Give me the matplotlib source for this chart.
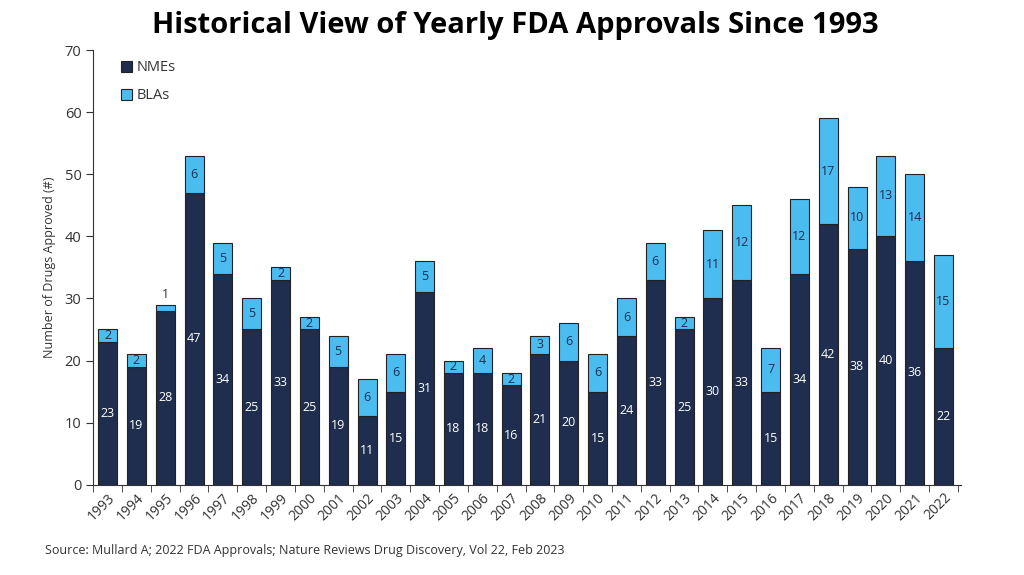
import matplotlib.pyplot as plt
import numpy as np

years = list(range(1993, 2023))
nmes = [23, 19, 28, 47, 34, 25, 33, 25, 19, 11, 15, 31, 18, 18, 16,
        21, 20, 15, 24, 33, 25, 30, 33, 15, 34, 42, 38, 40, 36, 22]
blas = [2, 2, 1, 6, 5, 5, 2, 2, 5, 6, 6, 5, 2, 4, 2,
        3, 6, 6, 6, 6, 2, 11, 12, 7, 12, 17, 10, 13, 14, 15]

NAVY = '#1f2d4f'
LIGHT = '#4bbcf0'
TEXT = '#333333'

plt.rcParams['font.family'] = ['Open Sans', 'DejaVu Sans']

fig = plt.figure(figsize=(10.24, 5.75), dpi=100)
ax = fig.add_axes([0.091, 0.157, 0.847, 0.756])

x = np.arange(len(years))
width = 0.66
ax.bar(x, nmes, width, color=NAVY, edgecolor='#222222', linewidth=0.8, label='NMEs')
ax.bar(x, blas, width, bottom=nmes, color=LIGHT, edgecolor='#222222', linewidth=0.8, label='BLAs')

for xi, n, b in zip(x, nmes, blas):
    ax.text(xi, n / 2, str(n), ha='center', va='center', color='white', fontsize=9)
    if b >= 2:
        ax.text(xi, n + b / 2, str(b), ha='center', va='center', color=NAVY, fontsize=9)
    else:
        ax.text(xi, n + b + 0.6, str(b), ha='center', va='bottom', color=TEXT, fontsize=9)

ax.set_xlim(-0.49, len(years) - 0.41)
ax.set_ylim(0, 70)
ax.set_yticks(range(0, 71, 10))
ax.set_xticks(x)
ax.set_xticklabels([str(y) for y in years], rotation=45, ha='right', rotation_mode='anchor',
                   fontsize=10, color=TEXT)
ax.set_xticks(np.arange(-0.5, len(years), 1.0), minor=True)
ax.tick_params(axis='x', which='major', length=0, pad=4)
ax.tick_params(axis='x', which='minor', length=5, color='#333333')
ax.tick_params(axis='y', labelsize=10.5, colors=TEXT, length=5)
for s in ['top', 'right']:
    ax.spines[s].set_visible(False)
for s in ['left', 'bottom']:
    ax.spines[s].set_color('#333333')

ax.set_ylabel('Number of Drugs Approved (#)', fontsize=9, color=TEXT, labelpad=6)

ax.legend(loc='upper left', bbox_to_anchor=(0.02, 1.0), frameon=False, fontsize=10.5,
          handlelength=0.8, handleheight=0.8, handletextpad=0.3, labelspacing=0.9,
          borderaxespad=0.3, labelcolor=TEXT)

fig.text(0.503, 0.955, 'Historical View of Yearly FDA Approvals Since 1993', ha='center', va='center',
         fontsize=21, fontweight='bold', color='black')
fig.text(0.044, 0.042, 'Source: Mullard A; 2022 FDA Approvals; Nature Reviews Drug Discovery, Vol 22, Feb 2023',
         ha='left', va='center', fontsize=9, color=TEXT)

fig.savefig('out.png', dpi=100)
